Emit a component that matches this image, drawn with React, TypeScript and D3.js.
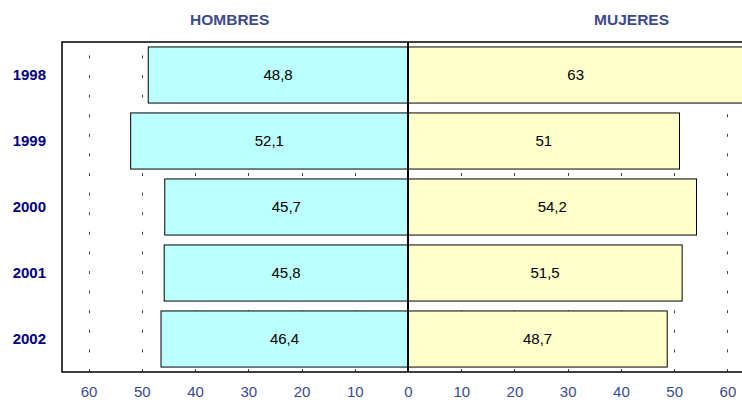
import { useEffect, useRef } from "react";
import * as d3 from "d3";

const years = ["1998", "1999", "2000", "2001", "2002"];
const hombres = [48.8, 52.1, 45.7, 45.8, 46.4];
const mujeres = [63, 51, 54.2, 51.5, 48.7];
const tickValues = [-60, -50, -40, -30, -20, -10, 0, 10, 20, 30, 40, 50, 60];

const fmt = (v: number) => String(v).replace(".", ",");

export default function App() {
  const ref = useRef<HTMLDivElement>(null);

  useEffect(() => {
    const container = d3.select(ref.current);
    container.selectAll("*").remove();

    const width = 742;
    const height = 400;
    const top = 42;
    const bottom = 372;
    const font = "'Liberation Sans', Arial, sans-serif";

    const svg = container
      .append("svg")
      .attr("width", width)
      .attr("height", height)
      .style("display", "block");

    svg.append("rect").attr("width", width).attr("height", height).attr("fill", "#fff");

    const x = d3.scaleLinear().domain([-65, 65]).range([62, 754]);
    const y = d3
      .scaleBand<string>()
      .domain(years)
      .range([top, bottom])
      .paddingInner(0.15)
      .paddingOuter(0.075);

    // dashed gridlines
    svg
      .append("g")
      .selectAll("line")
      .data(tickValues.filter((t) => t !== 0))
      .join("line")
      .attr("x1", (d) => Math.round(x(d)) + 0.5)
      .attr("x2", (d) => Math.round(x(d)) + 0.5)
      .attr("y1", bottom)
      .attr("y2", top)
      .attr("stroke", "#444")
      .attr("stroke-width", 1)
      .attr("stroke-dasharray", "3 16.6");

    // bars
    const rows = years.map((yr, i) => ({ yr, h: hombres[i], m: mujeres[i] }));

    svg
      .append("g")
      .selectAll("rect")
      .data(rows)
      .join("rect")
      .attr("x", (d) => x(-d.h))
      .attr("y", (d) => y(d.yr)!)
      .attr("width", (d) => x(0) - x(-d.h))
      .attr("height", y.bandwidth())
      .attr("fill", "#bbffff")
      .attr("stroke", "#000")
      .attr("stroke-width", 1);

    svg
      .append("g")
      .selectAll("rect")
      .data(rows)
      .join("rect")
      .attr("x", x(0))
      .attr("y", (d) => y(d.yr)!)
      .attr("width", (d) => x(d.m) - x(0))
      .attr("height", y.bandwidth())
      .attr("fill", "#ffffcc")
      .attr("stroke", "#000")
      .attr("stroke-width", 1);

    // value labels
    const labels = svg
      .append("g")
      .style("font-family", font)
      .style("font-size", "15px")
      .attr("fill", "#000")
      .attr("text-anchor", "middle");

    labels
      .selectAll("text.h")
      .data(rows)
      .join("text")
      .attr("class", "h")
      .attr("x", (d) => (x(-d.h) + x(0)) / 2)
      .attr("y", (d) => y(d.yr)! + y.bandwidth() / 2)
      .attr("dy", "0.35em")
      .text((d) => fmt(d.h));

    labels
      .selectAll("text.m")
      .data(rows)
      .join("text")
      .attr("class", "m")
      .attr("x", (d) => (x(d.m) + x(0)) / 2)
      .attr("y", (d) => y(d.yr)! + y.bandwidth() / 2)
      .attr("dy", "0.35em")
      .text((d) => fmt(d.m));

    // plot frame
    svg
      .append("rect")
      .attr("x", x(-65))
      .attr("y", top)
      .attr("width", x(65) - x(-65))
      .attr("height", bottom - top)
      .attr("fill", "none")
      .attr("stroke", "#000")
      .attr("stroke-width", 1.5);

    // zero line
    svg
      .append("line")
      .attr("x1", x(0))
      .attr("x2", x(0))
      .attr("y1", top)
      .attr("y2", bottom)
      .attr("stroke", "#000")
      .attr("stroke-width", 2);

    // bottom axis labels
    const axis = svg
      .append("g")
      .attr("transform", `translate(0,${bottom})`)
      .call(
        d3
          .axisBottom(x)
          .tickValues(tickValues)
          .tickSize(0)
          .tickPadding(14)
          .tickFormat((d) => String(Math.abs(+d)))
      );
    axis.select(".domain").remove();
    axis
      .selectAll("text")
      .style("font-family", font)
      .style("font-size", "15px")
      .attr("fill", "#3c4a8c");

    // year labels
    svg
      .append("g")
      .selectAll("text")
      .data(years)
      .join("text")
      .attr("x", 46)
      .attr("y", (d) => y(d)! + y.bandwidth() / 2)
      .attr("dy", "0.35em")
      .attr("text-anchor", "end")
      .style("font-family", font)
      .style("font-size", "15px")
      .style("font-weight", "bold")
      .attr("fill", "#000080")
      .text((d) => d);

    // side titles
    svg
      .append("g")
      .selectAll("text")
      .data([
        { t: "HOMBRES", v: -33.5 },
        { t: "MUJERES", v: 42 },
      ])
      .join("text")
      .attr("x", (d) => x(d.v))
      .attr("y", 20)
      .attr("dy", "0.35em")
      .attr("text-anchor", "middle")
      .style("font-family", font)
      .style("font-size", "15.5px")
      .style("font-weight", "bold")
      .attr("fill", "#3c4a8c")
      .text((d) => d.t);
  }, []);

  return (
    <div
      ref={ref}
      style={{ position: "absolute", left: 0, top: 0, width: 742, height: 400, overflow: "hidden" }}
    />
  );
}
